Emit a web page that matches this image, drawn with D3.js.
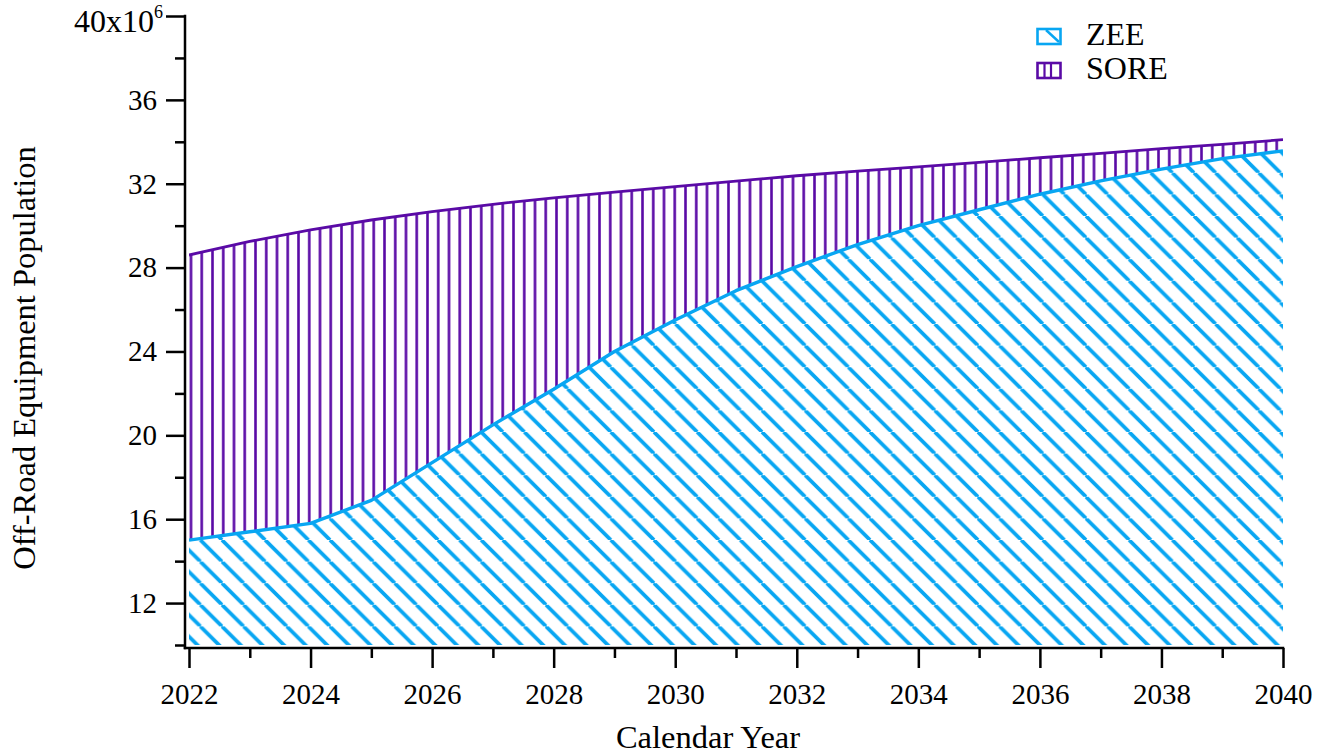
<!DOCTYPE html>
<html>
<head>
<meta charset="utf-8">
<script src="https://cdn.jsdelivr.net/npm/d3@7"></script>
<style>
  html, body { margin: 0; padding: 0; background: #fff; }
  svg { display: block; font-family: "Liberation Serif", "Times New Roman", serif; }
</style>
</head>
<body>
<div id="viz"></div>
<script>
// --- data (millions) ---
const years = d3.range(2022, 2041);
const zee  = [15.0, 15.4, 15.8, 16.9, 18.7, 20.5, 22.2, 24.0, 25.5, 26.9, 28.05, 29.1, 30.0, 30.76, 31.5, 32.14, 32.7, 33.2, 33.57];
const sore = [13.6, 13.85, 14.0, 13.37, 11.97, 10.52, 9.13, 7.6, 6.36, 5.22, 4.33, 3.5, 2.8, 2.26, 1.74, 1.31, 0.97, 0.68, 0.53];
const seriesNames = ["ZEE", "SORE"];
const yMajor = [12, 16, 20, 24, 28, 32, 36, 40];
const yMinor = [10, 14, 18, 22, 26, 30, 34, 38];
const xMajor = [2022, 2024, 2026, 2028, 2030, 2032, 2034, 2036, 2038, 2040];

const W = 1333, H = 756;
const blue = "#08a6f2", purple = "#5a0aa6";

const svg = d3.select("#viz").append("svg")
  .attr("width", W).attr("height", H);

const x = d3.scaleLinear().domain([2022, 2040]).range([189, 1283]);
const y = d3.scaleLinear().domain([10, 40]).range([645, 16]);

// --- patterns ---
const defs = svg.append("defs");
const ds = 21.6;
const pz = defs.append("pattern").attr("id", "hatchZEE")
  .attr("patternUnits", "userSpaceOnUse").attr("width", ds).attr("height", ds)
  .attr("x", 6);
pz.append("path").attr("d", `M0,0 L${ds},${ds} M${-ds/2},${ds/2} L0,${ds} M${ds},0 L${ds*1.5},${ds/2}`)
  .attr("stroke", blue).attr("stroke-width", 3.7).attr("fill", "none");

const vs = 10.75;
const ps = defs.append("pattern").attr("id", "hatchSORE")
  .attr("patternUnits", "userSpaceOnUse").attr("width", vs).attr("height", 50)
  .attr("x", 191 - vs / 2);
ps.append("line").attr("x1", vs / 2).attr("x2", vs / 2).attr("y1", 0).attr("y2", 50)
  .attr("stroke", purple).attr("stroke-width", 2.6);

defs.append("clipPath").attr("id", "plotClip").append("rect")
  .attr("x", x(2022)).attr("y", y(40)).attr("width", x(2040) - x(2022)).attr("height", y(10) - y(40));

// --- stacked areas ---
const rows = years.map((yr, i) => ({ year: yr, ZEE: zee[i], SORE: sore[i] }));
const stacked = d3.stack().keys(seriesNames)(rows);
const fills = { ZEE: "url(#hatchZEE)", SORE: "url(#hatchSORE)" };
const strokes = { ZEE: blue, SORE: purple };

const area = d3.area()
  .x(d => x(d.data.year)).y0(d => y(d[0])).y1(d => y(d[1]));
const topLine = d3.line().x(d => x(d.data.year)).y(d => y(d[1]));

const plot = svg.append("g").attr("clip-path", "url(#plotClip)");
plot.selectAll(".area").data(stacked).enter().append("path")
  .attr("class", "area")
  .attr("d", area)
  .attr("fill", d => fills[d.key]);

// SORE top first, then ZEE top line on top
plot.selectAll(".edge").data(stacked.slice().reverse()).enter().append("path")
  .attr("class", "edge")
  .attr("d", topLine)
  .attr("fill", "none")
  .attr("stroke", d => strokes[d.key])
  .attr("stroke-width", d => d.key === "ZEE" ? 3.4 : 2.8)
  .attr("stroke-linejoin", "round");

// --- axes ---
const fontSize = 29, titleSize = 32.5;
function styleAxis(g) {
  g.select(".domain").remove();
  g.selectAll(".tick line").attr("stroke", "#000").attr("stroke-width", 2.5);
  g.selectAll(".tick text").attr("fill", "#000").style("font-size", fontSize + "px")
    .style("font-family", "'Liberation Serif', 'Times New Roman', serif");
}

const yAxisG = svg.append("g").attr("transform", "translate(185,0)");
yAxisG.append("g").call(d3.axisLeft(y).tickValues(yMinor).tickSize(10).tickFormat("")).call(styleAxis);
yAxisG.append("g").call(d3.axisLeft(y).tickValues(yMajor).tickSize(19).tickPadding(9)
  .tickFormat(d => d === 40 ? "" : d)).call(styleAxis);

const xAxisG = svg.append("g").attr("transform", "translate(0,648)");
xAxisG.append("g").call(d3.axisBottom(x).tickValues(d3.range(2023, 2040, 2)).tickSize(10).tickFormat("")).call(styleAxis);
xAxisG.append("g").call(d3.axisBottom(x).tickValues(xMajor).tickSize(20).tickPadding(15)
  .tickFormat(d3.format("d"))).call(styleAxis);

// axis lines
svg.append("line").attr("x1", 185).attr("x2", 185).attr("y1", y(40) - 1.25).attr("y2", 649.25)
  .attr("stroke", "#000").attr("stroke-width", 2.5);
svg.append("line").attr("x1", 183.75).attr("x2", x(2040) + 1.25).attr("y1", 648).attr("y2", 648)
  .attr("stroke", "#000").attr("stroke-width", 2.5);

// top label with exponent
const topLab = svg.append("text")
  .attr("x", 163).attr("y", 32)
  .attr("text-anchor", "end")
  .style("font-size", "32px");
topLab.append("tspan").text("40x10");
topLab.append("tspan").attr("dy", -14).style("font-size", "18px").text("6");

// axis titles
svg.append("text")
  .attr("transform", "translate(35,358) rotate(-90)")
  .attr("text-anchor", "middle")
  .style("font-size", titleSize + "px")
  .text("Off-Road Equipment Population");

svg.append("text")
  .attr("x", 708).attr("y", 748)
  .attr("text-anchor", "middle")
  .style("font-size", titleSize + "px")
  .text("Calendar Year");

// --- legend ---
const legend = svg.append("g");
const legendRows = [
  { name: "ZEE", y: 28, color: blue },
  { name: "SORE", y: 62, color: purple }
];
legendRows.forEach(r => {
  const g = legend.append("g");
  g.append("rect").attr("x", 1037.5).attr("y", r.y + 1).attr("width", 23).attr("height", 15)
    .attr("fill", "#fff").attr("stroke", r.color).attr("stroke-width", 2.6);
  if (r.name === "ZEE") {
    g.append("line").attr("x1", 1046).attr("y1", r.y + 2).attr("x2", 1059).attr("y2", r.y + 14)
      .attr("stroke", r.color).attr("stroke-width", 2.4);
  } else {
    [1044.5, 1051].forEach(lx => g.append("line").attr("x1", lx).attr("x2", lx)
      .attr("y1", r.y + 1).attr("y2", r.y + 16).attr("stroke", r.color).attr("stroke-width", 2.2));
  }
  g.append("text").attr("x", 1086).attr("y", r.y + 17)
    .style("font-size", "32px").attr("fill", "#000").text(r.name);
});
</script>
</body>
</html>
